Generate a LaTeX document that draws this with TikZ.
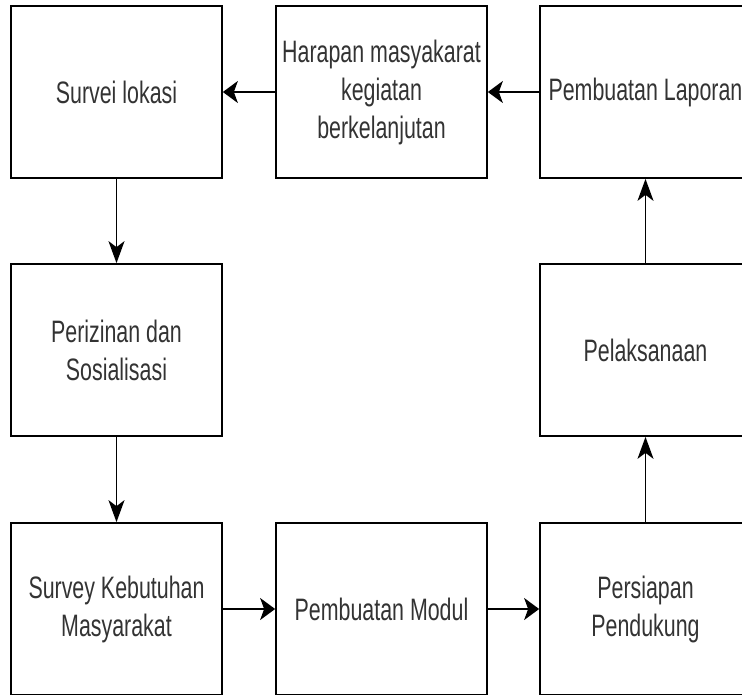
\documentclass[tikz,border=0pt]{standalone}
\usepackage{fontspec}
\setmainfont{Liberation Sans}[FakeStretch=0.69]
\usetikzlibrary{arrows.meta}

\tikzset{
  box/.style={draw, line width=1.7pt, minimum width=211pt, minimum height=172pt,
    inner sep=0pt, align=center, text=black!80, font=\fontsize{31}{38}\selectfont},
  harrow/.style={-{Stealth[length=15pt,width=22pt,inset=4pt]}, line width=1.7pt},
  varrow/.style={-{Stealth[length=22pt,width=16pt,inset=6pt]}, line width=1.7pt}
}

\begin{document}
\begin{tikzpicture}[x=1pt,y=-1pt]
      \useasboundingbox (0,0) rectangle (742,694);
      \clip (0,0) rectangle (742,694);

      % Top row
      \node[box] (survei) at (116.5,92) {Survei lokasi};
      \node[box] (harapan) at (381.5,92) {Harapan masyakarat\\kegiatan\\berkelanjutan};
      \node[box] (laporan) at (645.5,92) {Pembuatan Laporan};

      % Middle row
      \node[box] (izin) at (116.5,350) {Perizinan dan\\Sosialisasi};
      \node[box] (laksana) at (645.5,350) {Pelaksanaan};

      % Bottom row
      \node[box] (kebutuhan) at (116.5,609) {Survey Kebutuhan\\Masyarakat};
      \node[box] (modul) at (381.5,609) {Pembuatan Modul};
      \node[box] (persiapan) at (645.5,609) {Persiapan\\Pendukung};

      % Connections
      \draw[varrow] (survei) -- (izin);
      \draw[varrow] (izin) -- (kebutuhan);
      \draw[harrow] (kebutuhan) -- (modul);
      \draw[harrow] (modul) -- (persiapan);
      \draw[varrow] (persiapan) -- (laksana);
      \draw[varrow] (laksana) -- (laporan);
      \draw[harrow] (laporan) -- (harapan);
      \draw[harrow] (harapan) -- (survei);
\end{tikzpicture}
\end{document}
